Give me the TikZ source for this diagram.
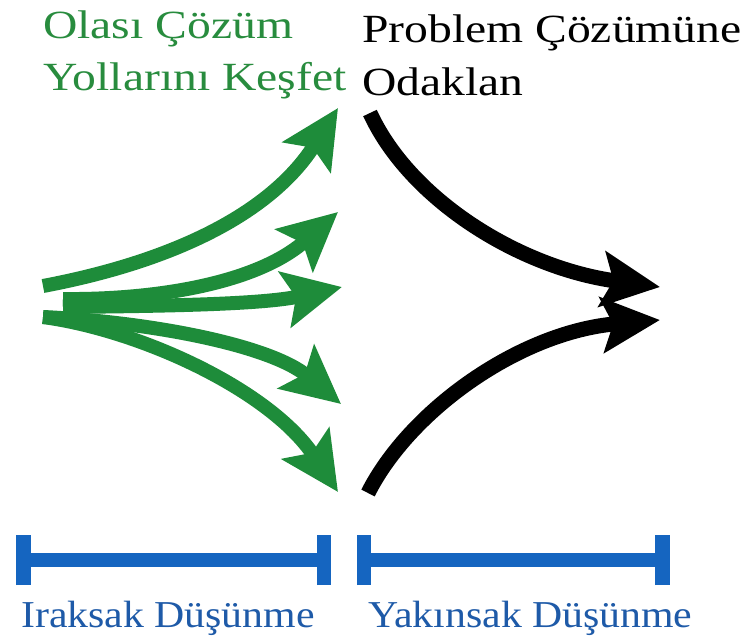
\documentclass[tikz,border=0pt]{standalone}
\usepackage{fontspec}
\setmainfont{Liberation Serif}
\newfontfamily\topfont[FakeStretch=1.19]{Liberation Serif}
\newfontfamily\botfont[FakeStretch=1.1]{Liberation Serif}
\usetikzlibrary{arrows.meta}
\definecolor{arrgreen}{RGB}{30,140,58}
\definecolor{txtgreen}{RGB}{40,140,62}
\definecolor{barblue}{RGB}{21,101,192}
\definecolor{txtblue}{RGB}{30,90,168}
\begin{document}
\begin{tikzpicture}[x=1pt,y=-1pt,
  toptext/.style={anchor=base west,inner sep=0pt,font=\topfont\fontsize{40}{48}\selectfont},
  bottext/.style={anchor=base west,inner sep=0pt,font=\botfont\fontsize{38}{46}\selectfont,text=txtblue},
  garrow/.style={draw=arrgreen,line width=14pt,-{Stealth[length=58pt,width=56pt,inset=11pt,fill=arrgreen]}},
  karrow/.style={draw=black,line width=15pt,-{Stealth[length=58pt,width=55pt,inset=11pt,fill=black]}},
  bar/.style={draw=barblue,line width=14pt}
]
\fill[white] (0,0) rectangle (750,637);
\useasboundingbox (0,0) rectangle (750,637);

% texts
\node[toptext,text=txtgreen] (t1) at (43,38) {Olası Çözüm};
\node[toptext,text=txtgreen] (t2) at (43,90) {Yollarını Keşfet};
\node[toptext] (t3) at (362,42) {Problem Çözümüne};
\node[toptext] (t4) at (362,95) {Odaklan};
\node[bottext] (b1) at (21,627) {Iraksak Düşünme};
\node[bottext] (b2) at (368,627) {Yakınsak Düşünme};

% green arrow points
\coordinate (g1s) at (43,286);
\coordinate (g1e) at (338,108);
\coordinate (g2s) at (63,299);
\coordinate (g2e) at (338,212);
\coordinate (g3s) at (63,307);
\coordinate (g3e) at (342,287);
\coordinate (g4s) at (43,317);
\coordinate (g4e) at (341,404);
\coordinate (g5s) at (43,317);
\coordinate (g5e) at (338,492);

\draw[garrow] (g1s) .. controls (170,262) and (270,215) .. (g1e);
\draw[garrow] (g2s) .. controls (150,300) and (255,285) .. (g2e);
\draw[garrow] (g3s) .. controls (150,306) and (260,305) .. (g3e);
\draw[garrow] (g4s) .. controls (150,322) and (270,345) .. (g4e);
\draw[garrow] (g5s) .. controls (140,330) and (270,390) .. (g5e);

% black arrows
\coordinate (k1s) at (370,113);
\coordinate (k1e) at (660,287);
\coordinate (k2s) at (368,493);
\coordinate (k2e) at (660,320);
\draw[karrow] (k1s) .. controls (410,200) and (520,268) .. (k1e);
\draw[karrow] (k2s) .. controls (410,410) and (520,332) .. (k2e);

% blue bars
\coordinate (l1) at (23.5,560);
\coordinate (l2) at (323.5,560);
\coordinate (r1) at (364,560);
\coordinate (r2) at (662.5,560);
\draw[bar] (l1) -- (l2);
\draw[bar,line width=15pt] ([yshift=-25pt]l1) -- ([yshift=25pt]l1);
\draw[bar,line width=14pt] ([yshift=-25pt]l2) -- ([yshift=25pt]l2);
\draw[bar] (r1) -- (r2);
\draw[bar] ([yshift=-25pt]r1) -- ([yshift=25pt]r1);
\draw[bar,line width=15pt] ([yshift=-25pt]r2) -- ([yshift=25pt]r2);
\end{tikzpicture}
\end{document}
